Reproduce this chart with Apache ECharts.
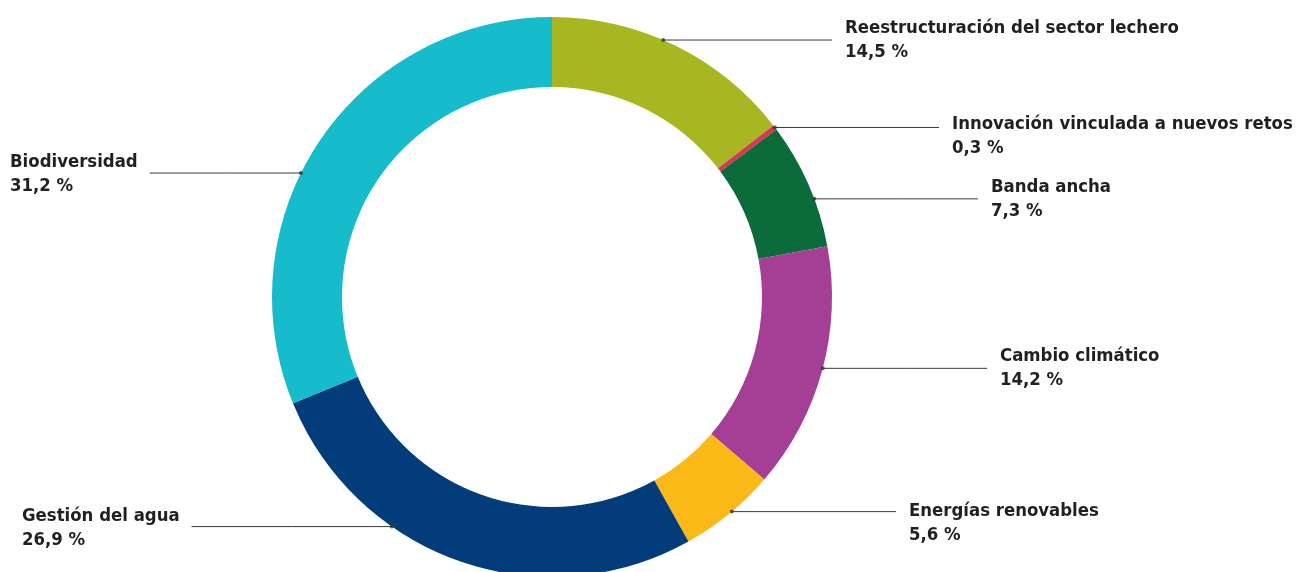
<!DOCTYPE html>
<html>
<head>
<meta charset="utf-8">
<script src="https://cdn.jsdelivr.net/npm/echarts@6/dist/echarts.min.js"></script>
<style>
html,body{margin:0;padding:0;background:#fff;}
#chart{width:1315px;height:572px;}
</style>
</head>
<body>
<div id="chart"></div>
<script>
// ---- data ----
const categories = [
  'Reestructuración del sector lechero',
  'Innovación vinculada a nuevos retos',
  'Banda ancha',
  'Cambio climático',
  'Energías renovables',
  'Gestión del agua',
  'Biodiversidad'
];
const values = [14.5, 0.3, 7.3, 14.2, 5.6, 26.9, 31.2];
const colors = ['#a8b721', '#d8384f', '#0b6b3a', '#a53f95', '#fbb917', '#033c7b', '#17bccc'];

// ---- label layout (where each leader starts on the ring, in % of the circle, and text placement) ----
const dotAngles = [6.5, 14.65, 19.3, 29.1, 38.9, 59.7, 82.3];
const labelX = [845, 952, 991, 1000, 909, 22, 10];
const labelDy = [0, 9, 0, 0, 12, 2, 1];

const CX = 552, CY = 297, R_OUT = 280, R_IN = 210;
const FONT = '"Liberation Sans Narrow", "DejaVu Sans Condensed", "Noto Sans", sans-serif';

const chart = echarts.init(document.getElementById('chart'), null, {renderer: 'canvas'});

function dotPos(i) {
  const a = dotAngles[i] / 100 * Math.PI * 2;
  return [CX + R_OUT * Math.sin(a), CY - R_OUT * Math.cos(a)];
}

const option = {
  backgroundColor: '#ffffff',
  animation: false,
  polar: {center: [CX, CY], radius: [0, R_OUT]},
  angleAxis: {type: 'value', min: 0, max: 100, startAngle: 90, clockwise: true, show: false},
  radiusAxis: {type: 'value', min: 0, max: 1, show: false},
  series: [
    {
      type: 'pie',
      center: [CX, CY],
      radius: [R_IN, R_OUT],
      startAngle: 90,
      clockwise: true,
      avoidLabelOverlap: false,
      silent: true,
      itemStyle: {borderWidth: 0},
      data: categories.map((c, i) => ({name: c, value: values[i], itemStyle: {color: colors[i]}})),
      label: {
        show: true,
        position: 'outer',
        formatter: p => p.name + '\n' + String(p.value).replace('.', ',') + ' %',
        fontFamily: FONT,
        fontWeight: 'bold',
        fontSize: 18.4,
        lineHeight: 24,
        color: '#231f20'
      },
      labelLine: {show: true, lineStyle: {color: '#3a3a3a', width: 1}},
      labelLayout: function (params) {
        const i = params.dataIndex;
        const d = dotPos(i);
        const y = d[1] + labelDy[i];
        let end;
        if (labelX[i] > CX) {
          end = labelX[i] - 13;
        } else {
          end = labelX[i] + params.labelRect.width + 12;
        }
        return {
          x: labelX[i],
          y: y,
          align: 'left',
          verticalAlign: 'middle',
          labelLinePoints: [[d[0], d[1]], [(d[0] + end) / 2, d[1]], [end, d[1]]]
        };
      }
    },
    {
      type: 'scatter',
      coordinateSystem: 'polar',
      silent: true,
      symbol: 'circle',
      symbolSize: 4,
      itemStyle: {color: '#333333'},
      z: 5,
      data: dotAngles.map(a => [1, a])
    }
  ]
};
chart.setOption(option);
</script>
</body>
</html>
